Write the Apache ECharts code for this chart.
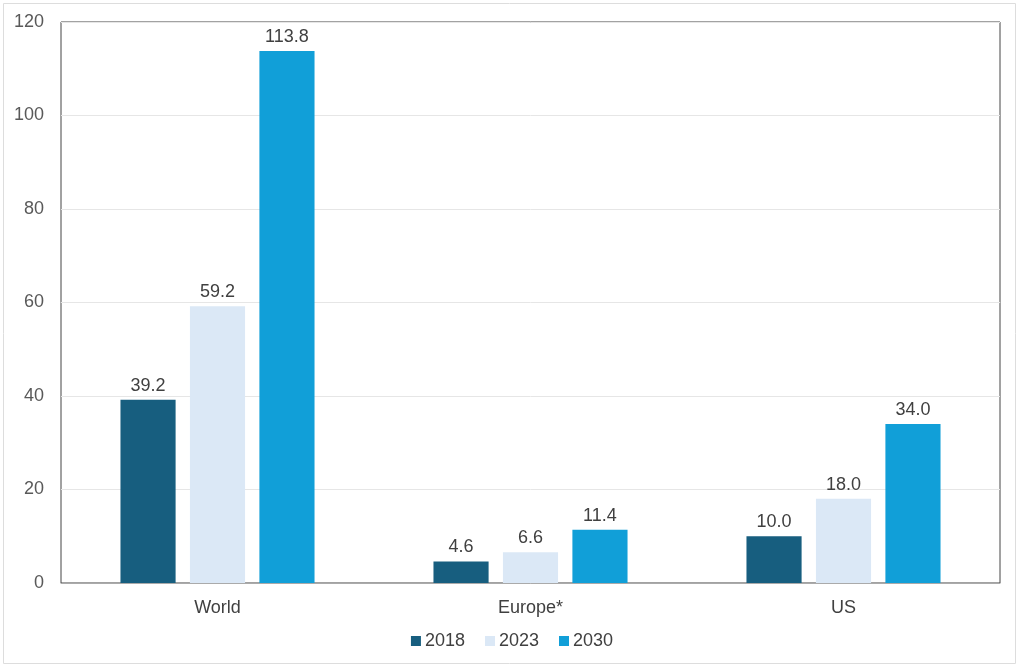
<!DOCTYPE html>
<html>
<head>
<meta charset="utf-8">
<script src="https://cdn.jsdelivr.net/npm/echarts@6/dist/echarts.min.js"></script>
<style>
  html, body { margin: 0; padding: 0; background: #fff; }
  #chart { width: 1024px; height: 671px; }
</style>
</head>
<body>
<div id="chart"></div>
<script>
// data
const regions = ['World', 'Europe*', 'US'];
const years = ['2018', '2023', '2030'];
const values2018 = [39.2, 4.6, 10.0];
const values2023 = [59.2, 6.6, 18.0];
const values2030 = [113.8, 11.4, 34.0];
const yTicks = [0, 20, 40, 60, 80, 100, 120];

const colors = ['#175e7f', '#dbe8f6', '#119fd8'];
const font = 'Liberation Sans, Arial, sans-serif';

let myChart = echarts.init(document.getElementById('chart'));

function makeSeries(name, data, i) {
	return {
		name: name,
		type: 'bar',
		data: data,
		barGap: '26%',
		barCategoryGap: '38%',
		itemStyle: { color: colors[i] },
		label: {
			show: true,
			position: 'top',
			distance: 5,
			color: '#404040',
			fontSize: 18,
			fontFamily: font,
			formatter: function(p) { return p.value.toFixed(1) }
		}
	}
}

let option = {
	animation: false,
	graphic: [
		{
			type: 'rect',
			shape: { x: 3.5, y: 3.5, width: 1012, height: 660 },
			style: { fill: 'none', stroke: '#dddddd', lineWidth: 1 },
			silent: true
		}
	],
	grid: {
		left: 61,
		right: 24,
		top: 22,
		bottom: 88,
		show: true,
		borderColor: '#444',
		borderWidth: 1
	},
	legend: {
		data: years,
		bottom: 16,
		left: 'center',
		icon: 'rect',
		itemWidth: 10,
		itemHeight: 10,
		itemGap: 20,
		textStyle: { color: '#404040', fontSize: 18, fontFamily: font, padding: [0, 0, 0, -1] }
	},
	xAxis: {
		type: 'category',
		data: regions,
		axisLine: { show: true, lineStyle: { color: '#aaaaaa' } },
		axisTick: { show: false },
		axisLabel: { color: '#404040', fontSize: 18, fontFamily: font, margin: 16 }
	},
	yAxis: {
		type: 'value',
		min: yTicks[0],
		max: yTicks[yTicks.length - 1],
		interval: yTicks[1] - yTicks[0],
		axisLine: { show: false },
		axisTick: { show: false },
		splitLine: { lineStyle: { color: '#e6e6e6' } },
		axisLabel: { color: '#595959', fontSize: 18, fontFamily: font, margin: 17 }
	},
	series: [
		makeSeries(years[0], values2018, 0),
		makeSeries(years[1], values2023, 1),
		makeSeries(years[2], values2030, 2)
	]
};

myChart.setOption(option);
</script>
</body>
</html>
